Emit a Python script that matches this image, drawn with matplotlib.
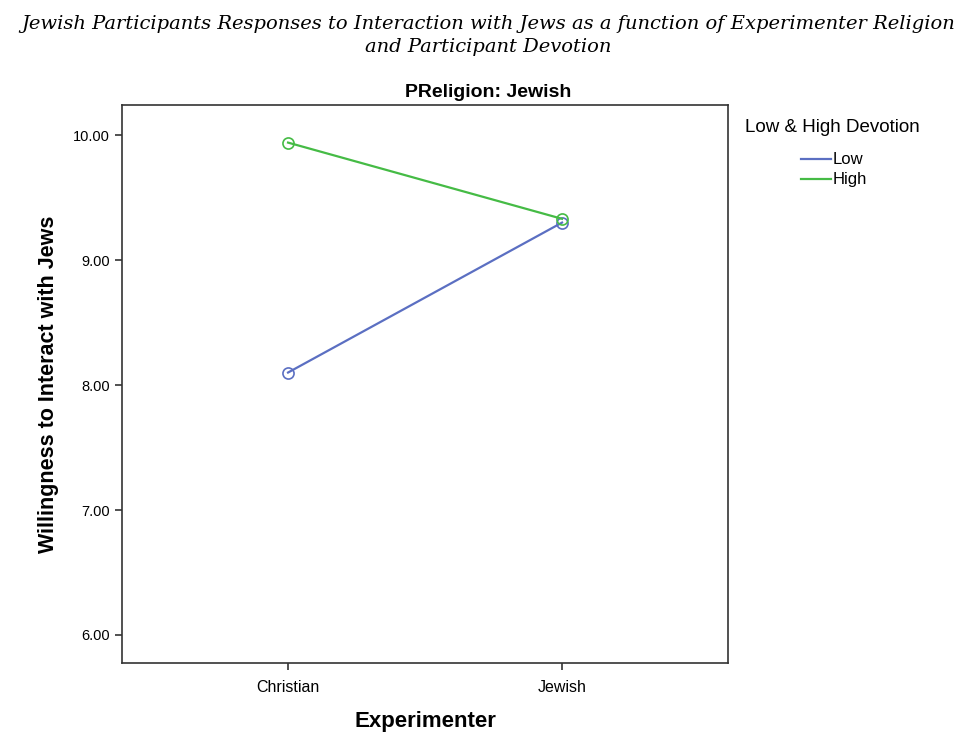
import matplotlib.pyplot as plt
from matplotlib.lines import Line2D

# data
experimenter = ['Christian', 'Jewish']
low_devotion = [8.10, 9.30]
high_devotion = [9.94, 9.33]
y_ticks = [6.0, 7.0, 8.0, 9.0, 10.0]

blue = '#5b6fc2'
green = '#45bb45'

plt.rcParams['font.family'] = 'Liberation Sans'

fig = plt.figure(figsize=(9.76, 7.35), dpi=100)
ax = fig.add_axes([0.125, 0.098, 0.621, 0.759])

x = range(len(experimenter))
ax.plot(x, low_devotion, color=blue, lw=1.6, marker='o', ms=8,
        mfc='none', mec=blue, mew=1.2)
ax.plot(x, high_devotion, color=green, lw=1.6, marker='o', ms=8,
        mfc='none', mec=green, mew=1.2)

ax.set_xlim(-0.606, 1.606)
ax.set_ylim(5.776, 10.24)
ax.set_xticks(list(x))
ax.set_xticklabels(experimenter, fontsize=11.5)
ax.set_yticks(y_ticks)
ax.set_yticklabels([f'{v:.2f}' for v in y_ticks], fontsize=10.5)
ax.tick_params(length=5, width=1.2, color='#333333', direction='out', pad=4)
ax.tick_params(axis='x', pad=7)

for s in ax.spines.values():
    s.set_linewidth(1.2)
    s.set_color('#333333')

ax.set_xlabel('Experimenter', fontsize=16, fontweight='bold', labelpad=12)
ax.set_ylabel('Willingness to Interact with Jews', fontsize=15.5, fontweight='bold', labelpad=10)
fig.text(0.5, 0.874, 'PReligion: Jewish', fontsize=14, fontweight='bold', ha='center', va='center')

fig.suptitle('Jewish Participants Responses to Interaction with Jews as a function of Experimenter Religion\nand Participant Devotion',
             fontsize=14, fontstyle='italic', family='DejaVu Serif', y=0.98, linespacing=1.4)

fig.text(0.763, 0.826, 'Low & High Devotion', fontsize=13.5, va='center')
handles = [Line2D([], [], color=blue, lw=1.6), Line2D([], [], color=green, lw=1.6)]
fig.legend(handles, ['Low', 'High'], loc='upper left', bbox_to_anchor=(0.812, 0.804),
           frameon=False, fontsize=12, handlelength=1.8, handletextpad=0.1,
           labelspacing=0.3, borderpad=0)

fig.savefig('out.png', dpi=100)
